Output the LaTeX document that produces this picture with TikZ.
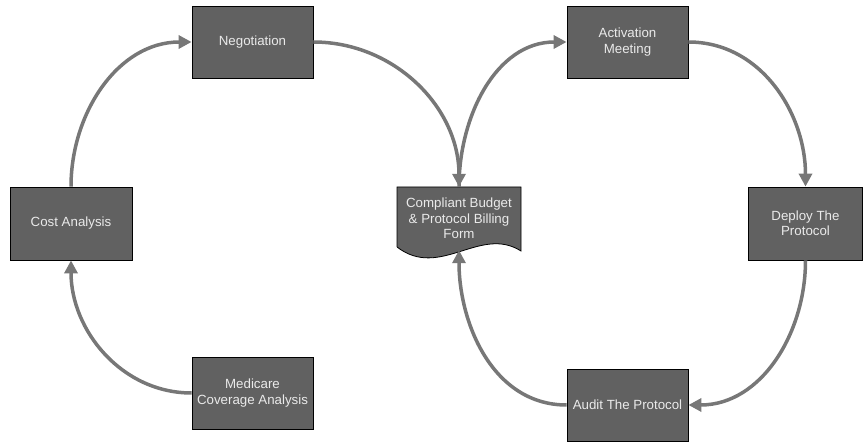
\documentclass[tikz,border=0pt]{standalone}
\usepackage{fontspec}
\setmainfont{Liberation Sans}
\usetikzlibrary{arrows.meta}
\definecolor{boxgray}{HTML}{616161}
\definecolor{flowgray}{HTML}{777777}
\definecolor{labelgray}{HTML}{EAEAEA}
\begin{document}
\begin{tikzpicture}[x=1pt,y=1pt,
  stepbox/.style={draw=black,line width=0.8pt,fill=boxgray,text=labelgray,
    align=center,inner sep=2pt,minimum width=121pt,minimum height=72pt,
    font=\fontsize{13.3}{15.3}\selectfont},
  flow/.style={draw=flowgray,line width=3.5pt,-{Triangle[length=13pt,width=13pt]}}]
\useasboundingbox (0,0) rectangle (863,442);
\node [stepbox] (neg) at (252.5,400) {Negotiation};
\node [stepbox] (act) at (627.5,400) {Activation\\Meeting};
\node [stepbox,minimum width=122pt,minimum height=73pt] (cost) at (71,218.5) {Cost Analysis};
\node [stepbox,minimum width=114pt,minimum height=73pt] (deploy) at (805.5,218.5) {Deploy The\\Protocol};
\node [stepbox] (med) at (252.5,49) {Medicare\\Coverage Analysis};
\node [stepbox] (audit) at (627.5,37) {Audit The Protocol};
\fill [boxgray] (397,255) -- (521,255) -- (521,191) .. controls (480,217) and (440,162) .. (397,195) -- cycle;
\draw [black,line width=0.8pt] (397,195) -- (397,255) -- (521,255) -- (521,191) .. controls (480,217) and (440,162) .. (397,195);
\node [text=labelgray,align=center,font=\fontsize{13.3}{15.3}\selectfont,minimum width=124pt,minimum height=63pt,inner sep=0pt] (doc) at (459,223.5) {Compliant Budget\\\& Protocol Billing\\Form};
\draw [flow] (med.west) to[out=180,in=-90] (cost.south);
\draw [flow] (cost.north) to[out=90,in=180] (neg.west);
\draw [flow] (neg.east) to[out=0,in=90] (doc.north);
\draw [flow] (doc.north) to[out=90,in=180] (act.west);
\draw [flow] (act.east) to[out=0,in=90] (deploy.north);
\draw [flow] (deploy.south) to[out=-90,in=0] (audit.east);
\draw [flow] (audit.west) to[out=180,in=-90] (doc.south);
\end{tikzpicture}
\end{document}
